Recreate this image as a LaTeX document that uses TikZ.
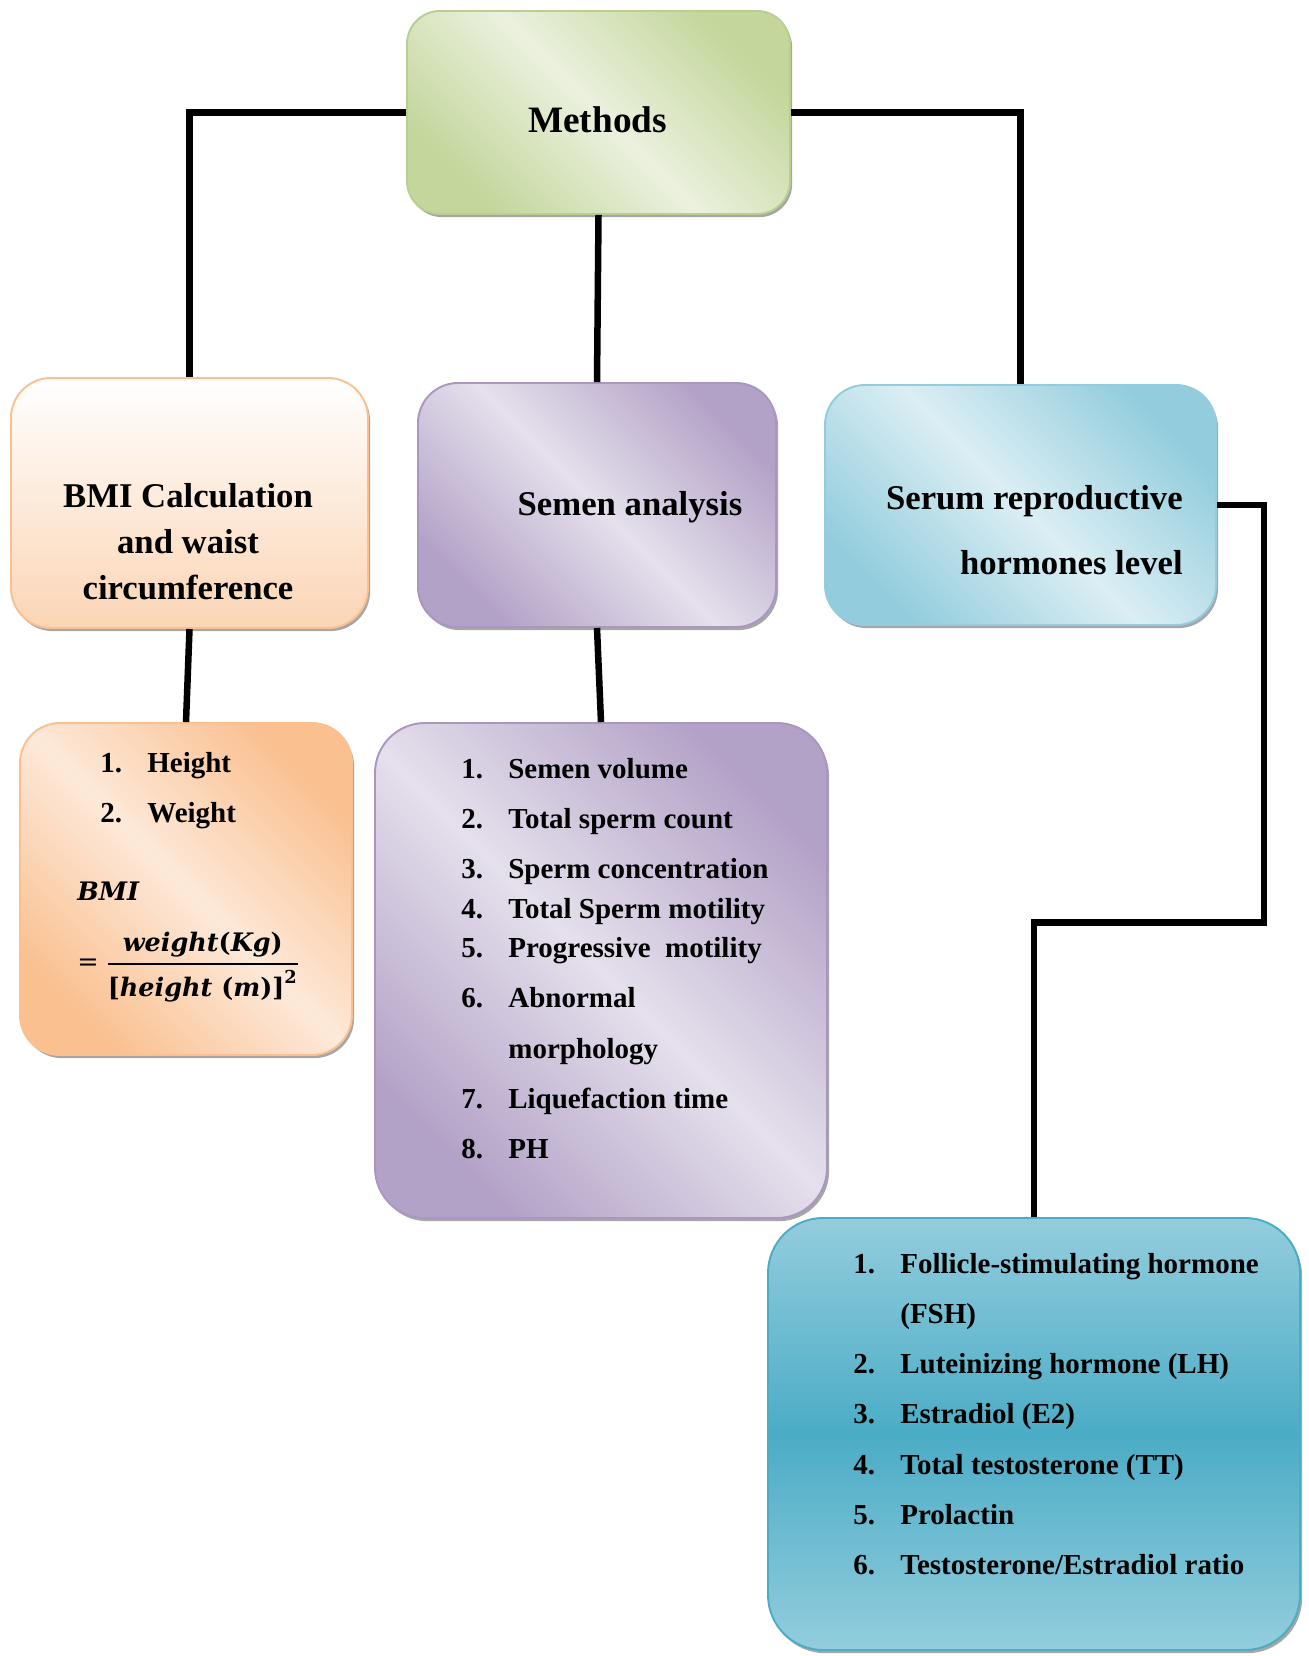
\documentclass[tikz,border=0pt]{standalone}
\usepackage{fontspec}
\setmainfont{Liberation Serif}
\newfontfamily\formulafont{DejaVu Serif}
\usepackage{amsmath}
\usetikzlibrary{shadows}
\definecolor{OliveDark}{HTML}{C3D69B}
\definecolor{OliveLight}{HTML}{EBF1DE}
\definecolor{OliveEdge}{HTML}{B9CF8F}
\definecolor{PeachDark}{HTML}{FAC090}
\definecolor{PeachMid}{HTML}{FBD5B5}
\definecolor{PeachLight}{HTML}{FDE9D9}
\definecolor{LilacDark}{HTML}{B3A2C7}
\definecolor{LilacLight}{HTML}{E5E0EC}
\definecolor{LilacEdge}{HTML}{A996C1}
\definecolor{AquaDark}{HTML}{93CDDD}
\definecolor{AquaLight}{HTML}{DBEEF4}
\definecolor{AquaDeep}{HTML}{4BACC6}

\begin{document}
\begin{tikzpicture}[
  box/.style={draw,line width=1.1pt,rounded corners=0.8cm,inner sep=0pt,
    drop shadow={shadow xshift=1.2pt,shadow yshift=-1.8pt,opacity=0.35,fill=black}},
  diag/.style 2 args={top color=#1,bottom color=#1,middle color=#2,shading angle=-45},
  link/.style={line width=3.7pt},
  head/.style={font=\fontsize{19.75}{26.2}\selectfont\bfseries,inner sep=0pt,anchor=base},
  items/.style={font=\fontsize{16.5}{28.6}\selectfont\bfseries,inner sep=0pt,anchor=base west},
  formula/.style={font=\fontsize{14.5}{20}\selectfont\formulafont\bfseries\itshape,
    inner sep=0pt,anchor=base west}
]
  \useasboundingbox (0,0) rectangle (26.16,-33.12);

  % Cajas de la fila superior y media.
  \node[box,draw=OliveEdge,diag={OliveDark}{OliveLight},rounded corners=0.66cm,
    minimum width=7.66cm,minimum height=4.06cm] (methods) at (11.97,-2.25) {};
  \node[box,draw=PeachDark,top color=white,bottom color=PeachMid,
    minimum width=7.14cm,minimum height=5.00cm] (bmi) at (3.79,-10.06) {};
  \node[box,draw=LilacEdge,diag={LilacDark}{LilacLight},
    minimum width=7.16cm,minimum height=4.88cm] (semen) at (11.94,-10.10) {};
  \node[box,draw=AquaDark,diag={AquaDark}{AquaLight},
    minimum width=7.82cm,minimum height=4.80cm] (serum) at (20.41,-10.10) {};

  % Cajas con las listas.
  \node[box,draw=PeachDark,diag={PeachDark}{PeachLight},
    minimum width=6.64cm,minimum height=6.64cm] (bmilist) at (3.72,-17.78) {};
  \node[box,draw=LilacEdge,diag={LilacDark}{LilacLight},rounded corners=1cm,
    minimum width=9.04cm,minimum height=9.90cm] (semlist) at (12.02,-19.41) {};
  \node[box,draw=AquaDeep,top color=AquaDark,bottom color=AquaDark,middle color=AquaDeep,
    rounded corners=1.1cm,minimum width=10.64cm,minimum height=8.64cm] (hormlist) at (20.68,-28.68) {};

  % Conectores.
  \draw[link] (methods.west) -| (bmi.north);
  \draw[link] (methods.east) -| (serum.north);
  \draw[link] (methods.south) -- (semen.north);
  \draw[link] (bmi.south) -- (bmilist.north);
  \draw[link] (semen.south) -- (semlist.north);
  \coordinate (elbow) at (25.28,-18.45);
  \draw[link] (serum.east) -| (elbow) -| (hormlist.north);

  % Textos.
  \node[font=\fontsize{21.2}{25}\selectfont\bfseries,inner sep=0pt,anchor=base]
    (methodstxt) at (11.95,-2.66) {Methods};
  \node[head] (bmitxt) at (3.76,-10.14)
    {\begin{tabular}[t]{@{}c@{}}BMI Calculation\\and waist\\circumference\end{tabular}};
  \node[head] (semtxt) at (12.60,-10.30) {Semen analysis};
  \node[head,anchor=base east,font=\fontsize{19.75}{37}\selectfont\bfseries]
    (serumtxt) at (23.66,-10.18)
    {\begin{tabular}[t]{@{}r@{}}Serum reproductive\\hormones level\end{tabular}};

  \node[items] (bmiitems) at (2.00,-15.44)
    {\begin{tabular}[t]{@{}p{0.94cm}@{}l@{}}1.&Height\\2.&Weight\end{tabular}};
  \node[formula] (bminame) at (1.54,-18.00) {BMI};
  \node[formula] (bmiformula) at (1.54,-19.40)
    {$\mathrel{\text{\mdseries\upshape=}}\genfrac{}{}{1.1pt}{0}{\text{weight\textup{(}Kg\textup{)}}}
      {\text{\textup{[}height \textup{(}m\textup{)]}}^{\textup{2}}}$};

  \node[items] (semitems) at (9.22,-15.56)
    {\begin{tabular}[t]{@{}p{0.94cm}@{}l@{}}
     1.&Semen volume\\
     2.&Total sperm count\\
     3.&Sperm concentration\\[-5.8pt]
     4.&Total Sperm motility\\[-6.4pt]
     5.&Progressive\ \ motility\\
     6.&Abnormal\\
       &morphology\\
     7.&Liquefaction time\\
     8.&PH
     \end{tabular}};

  \node[items] (hormitems) at (17.06,-25.46)
    {\begin{tabular}[t]{@{}p{0.94cm}@{}l@{}}
     1.&Follicle-stimulating hormone\\
       &(FSH)\\
     2.&Luteinizing hormone (LH)\\
     3.&Estradiol (E2)\\
     4.&Total testosterone (TT)\\
     5.&Prolactin\\
     6.&Testosterone/Estradiol ratio
     \end{tabular}};
\end{tikzpicture}
\end{document}
